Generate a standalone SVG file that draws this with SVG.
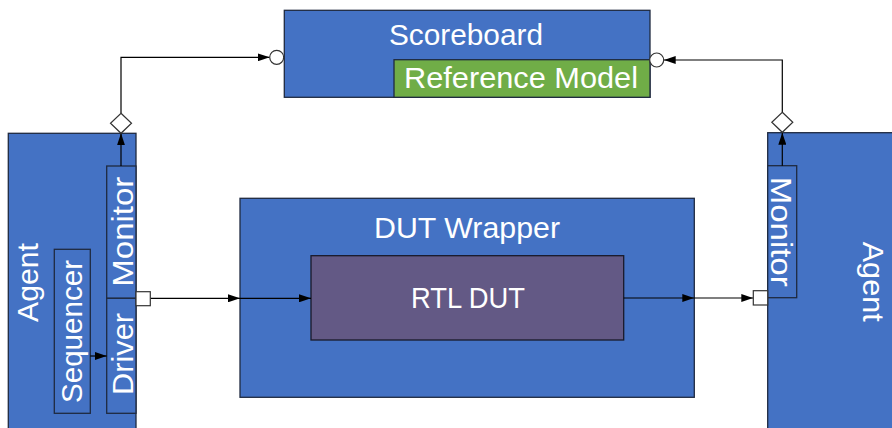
<svg xmlns="http://www.w3.org/2000/svg" width="892" height="428" viewBox="0 0 892 428">
  <style>
    .blk { fill: #4472C4; stroke: #1F2A40; stroke-width: 1.3; }
    .ref { fill: #70AD47; stroke: #1F2A40; stroke-width: 1.3; }
    .rtl { fill: #635985; stroke: #1A1A2A; stroke-width: 1.3; }
    .lbl { font-family: "Liberation Sans", Arial, sans-serif; font-size: 30px; fill: #FFFFFF; }
    .wire { fill: none; stroke: #000000; stroke-width: 1.2; }
    .port { fill: #FFFFFF; stroke: #333333; stroke-width: 1.2; }
  </style>
  <defs>
    <marker id="arrow" markerUnits="userSpaceOnUse" markerWidth="12" markerHeight="8" refX="12" refY="4" orient="auto">
      <path d="M0,0 L12,4 L0,8 Z" fill="#000000"/>
    </marker>
  </defs>

  <rect width="892" height="428" fill="#FFFFFF"/>

  <!-- Scoreboard with embedded reference model -->
  <g id="scoreboard">
    <rect class="blk" x="284.3" y="10.3" width="365.7" height="87"/>
    <text class="lbl" x="466" y="45" text-anchor="middle" textLength="154" lengthAdjust="spacingAndGlyphs">Scoreboard</text>
  </g>
  <g id="reference-model">
    <rect class="ref" x="394" y="59.7" width="256" height="37.6"/>
    <text class="lbl" x="521" y="88.3" text-anchor="middle" textLength="234" lengthAdjust="spacingAndGlyphs">Reference Model</text>
  </g>

  <!-- Input-side agent -->
  <g id="agent-in">
    <rect class="blk" x="8.3" y="133.3" width="127.7" height="300"/>
    <text class="lbl" transform="translate(38.3,282.5) rotate(-90)" text-anchor="middle" textLength="79" lengthAdjust="spacingAndGlyphs">Agent</text>
  </g>
  <g id="sequencer">
    <rect class="blk" x="54.3" y="249.3" width="36" height="164"/>
    <text class="lbl" transform="translate(82,331.5) rotate(-90)" text-anchor="middle" textLength="143" lengthAdjust="spacingAndGlyphs">Sequencer</text>
  </g>
  <g id="monitor-in">
    <rect class="blk" x="106.7" y="166" width="29.3" height="132.3"/>
    <text class="lbl" transform="translate(132.5,231.7) rotate(-90)" text-anchor="middle" textLength="110" lengthAdjust="spacingAndGlyphs">Monitor</text>
  </g>
  <g id="driver">
    <rect class="blk" x="106.7" y="298.3" width="29.3" height="115"/>
    <text class="lbl" transform="translate(132.5,354) rotate(-90)" text-anchor="middle" textLength="82" lengthAdjust="spacingAndGlyphs">Driver</text>
  </g>

  <!-- Design under test -->
  <g id="dut-wrapper">
    <rect class="blk" x="240" y="198.3" width="454.3" height="199"/>
    <text class="lbl" x="467" y="238.3" text-anchor="middle" textLength="186" lengthAdjust="spacingAndGlyphs">DUT Wrapper</text>
  </g>
  <g id="rtl-dut">
    <rect class="rtl" x="311" y="255.7" width="312.7" height="84.3"/>
    <text class="lbl" x="468" y="307.7" text-anchor="middle" textLength="114" lengthAdjust="spacingAndGlyphs">RTL DUT</text>
  </g>

  <!-- Output-side agent -->
  <g id="agent-out">
    <rect class="blk" x="767.7" y="132.7" width="140" height="300"/>
    <text class="lbl" transform="translate(863.3,281.7) rotate(90)" text-anchor="middle" textLength="80" lengthAdjust="spacingAndGlyphs">Agent</text>
  </g>
  <g id="monitor-out">
    <rect class="blk" x="767.7" y="165.7" width="29" height="132"/>
    <text class="lbl" transform="translate(770.7,231.7) rotate(90)" text-anchor="middle" textLength="110" lengthAdjust="spacingAndGlyphs">Monitor</text>
  </g>

  <!-- Connectors, ports and analysis sockets -->
  <g id="connectors">
    <!-- sequencer to driver -->
    <line class="wire" x1="90.3" y1="356" x2="106.7" y2="356" marker-end="url(#arrow)"/>

    <!-- input monitor to scoreboard -->
    <line class="wire" x1="121" y1="166" x2="121" y2="133.3" marker-end="url(#arrow)"/>
    <polyline class="wire" points="121,113.3 121,57.3 269.7,57.3" marker-end="url(#arrow)"/>
    <polygon class="port" points="121,113.3 131.5,123.3 121,133.3 110.5,123.3"/>
    <circle class="port" cx="276.7" cy="57.3" r="7"/>

    <!-- driver into DUT -->
    <line class="wire" x1="150.3" y1="298.3" x2="240" y2="298.3" marker-end="url(#arrow)"/>
    <line class="wire" x1="240" y1="298.3" x2="311" y2="298.3" marker-end="url(#arrow)"/>
    <rect class="port" x="136" y="291.7" width="14.3" height="14"/>

    <!-- DUT out to output monitor -->
    <line class="wire" x1="623.7" y1="298" x2="694.3" y2="298" marker-end="url(#arrow)"/>
    <line class="wire" x1="694.3" y1="298" x2="753.3" y2="298" marker-end="url(#arrow)"/>
    <rect class="port" x="753.3" y="290.7" width="14.4" height="14.3"/>

    <!-- output monitor to scoreboard -->
    <line class="wire" x1="782.3" y1="165.7" x2="782.3" y2="132.7" marker-end="url(#arrow)"/>
    <polyline class="wire" points="782.3,112.3 782.3,60 663.7,60" marker-end="url(#arrow)"/>
    <polygon class="port" points="782.3,112.3 792.8,122.3 782.3,132.3 771.8,122.3"/>
    <circle class="port" cx="656.7" cy="60" r="7"/>
  </g>
</svg>
